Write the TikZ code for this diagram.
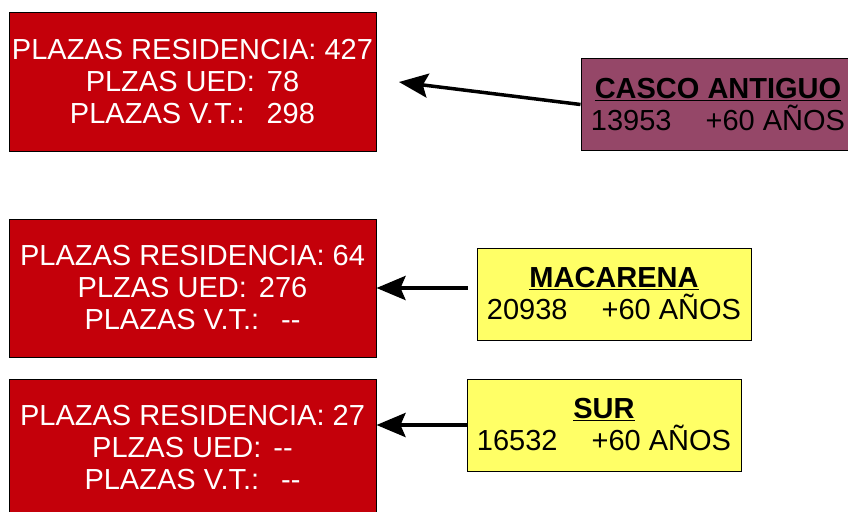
\documentclass[tikz,border=0pt]{standalone}
\usepackage{fontspec}
\setmainfont{Liberation Sans}
\usetikzlibrary{arrows.meta}
\definecolor{plazared}{HTML}{C4000A}
\definecolor{cascopurple}{HTML}{954768}
\definecolor{zonayellow}{HTML}{FFFF66}
\newcommand{\plazas}[3]{PLAZAS RESIDENCIA: #1\\
                        PLZAS UED:\hspace{12pt}#2\\
                        PLAZAS V.T.:\hspace{22pt}#3}
\newcommand{\zona}[2]{\textbf{\underline{#1}}\\
                      #2\hspace{34pt}+60 AÑOS}

\begin{document}
\begin{tikzpicture}[ x = 1pt, y = -1pt,
                     every node/.style={font=\fontsize{29}{32}\selectfont,align=center,inner sep=0pt},
                     plaza/.style={rectangle,draw=black,line width=1pt,fill=plazared,text=white,
                                   minimum width=367pt,minimum height=138pt},
                     zonabox/.style={rectangle,draw=black,line width=1pt,text=black,
                                   minimum width=274pt,minimum height=92pt},
                     flecha/.style={draw=black,line width=4pt,
                                   -{Stealth[length=29pt,width=24pt,inset=5pt]}},
                   ]
 \clip (0,0) rectangle (848,511);

 \draw (192.5,82)  node[plaza] (R1) {\plazas{427}{78}{298}};
 \draw (192.5,288) node[plaza] (R2) {\plazas{64}{276}{-{}-}};
 \draw (192.5,448) node[plaza] (R3) {\plazas{27}{-{}-}{-{}-}};

 \draw (718,104.5) node[zonabox,fill=cascopurple] (CA) {\zona{CASCO ANTIGUO}{13953}};
 \draw (614,294)   node[zonabox,fill=zonayellow]  (MA) {\zona{MACARENA}{20938}};
 \draw (604,425)   node[zonabox,fill=zonayellow]  (SU) {\zona{SUR}{16532}};

 \coordinate (T1) at (399,82);

 \draw[flecha,line width=3.5pt] (CA.west) -- (T1);
 \draw[flecha,shorten <=9pt] (MA.west |- R2.east) -- (R2.east);
 \draw[flecha] (SU.west) -- (R3.east |- SU.west);

\end{tikzpicture}
\end{document}
